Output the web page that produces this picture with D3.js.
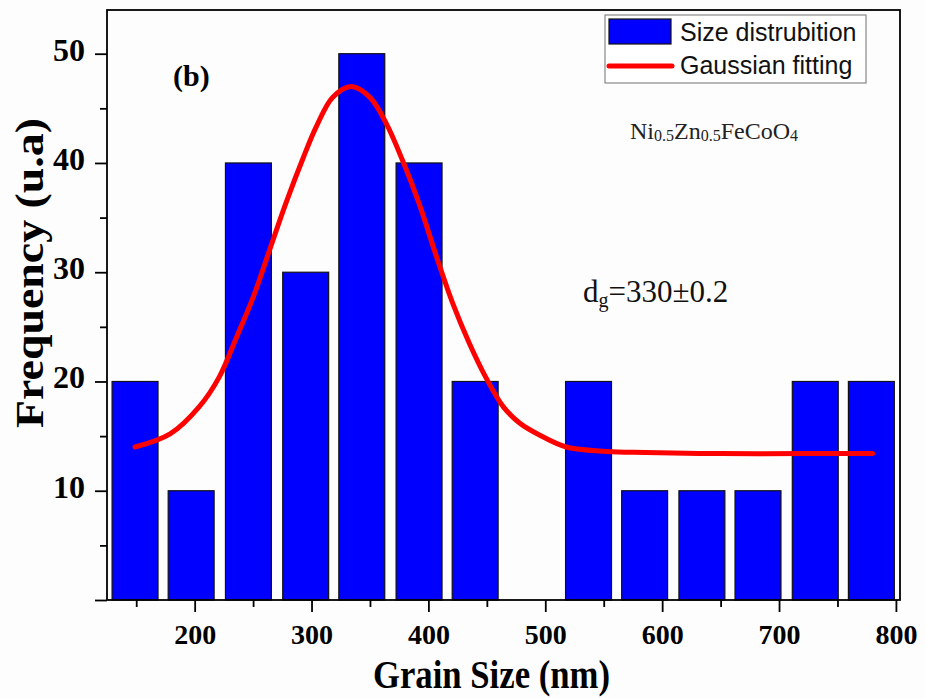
<!DOCTYPE html>
<html>
<head>
<meta charset="utf-8">
<script src="https://cdn.jsdelivr.net/npm/d3@7/dist/d3.min.js"></script>
<style>
  html, body { margin: 0; padding: 0; background: #fdfdfd; }
  svg { display: block; }
</style>
</head>
<body>
<svg id="chart" width="925" height="698"></svg>
<script>
// ---- data ----
const binCenters = [149, 197, 246, 295, 343, 392, 440, 488, 537, 585, 634, 682, 731, 779];
const frequencies = [20, 10, 40, 30, 50, 40, 20, 0, 20, 10, 10, 10, 20, 20];
const binWidth = 39.3;

const fitX = [149, 179, 204, 221, 236, 250, 264, 278, 293, 304, 318, 334, 350, 364, 378, 392, 407, 421, 435, 449, 464, 478, 495, 518, 552, 586, 650, 720, 780];
const fitY = [14.0, 15.2, 17.7, 20.4, 24.1, 27.7, 32.0, 36.3, 40.5, 43.3, 46.0, 47.0, 46.0, 43.6, 40.2, 36.3, 31.4, 27.1, 23.5, 20.4, 17.7, 16.2, 15.1, 14.0, 13.6, 13.5, 13.4, 13.4, 13.4];

const xTickValues = [200, 300, 400, 500, 600, 700, 800];
const xMinorTicks = [150, 250, 350, 450, 550, 650, 750];
const yTickValues = [10, 20, 30, 40, 50];
const yMinorTicks = [0, 5, 15, 25, 35, 45];

const xDomain = [125, 803.5];
const yDomain = [0, 54];

const legendLabels = ["Size distrubition", "Gaussian fitting"];
const xTitle = "Grain Size (nm)";
const yTitle = "Frequency (u.a)";

(function () {
// ---- layout ----
const svg = d3.select("#chart");
const mLeft = 107, mRight = 900, mTop = 10, mBottom = 600;
const serif = "'Liberation Serif', 'Times New Roman', serif";
const sans = "'Liberation Sans', Arial, sans-serif";

const x = d3.scaleLinear().domain(xDomain).range([mLeft, mRight]);
const y = d3.scaleLinear().domain(yDomain).range([mBottom, mTop]);

// bars
const bars = binCenters.map((c, i) => ({c, v: frequencies[i]})).filter(d => d.v > 0);
svg.append("g").selectAll("rect").data(bars).join("rect")
  .attr("x", d => x(d.c - binWidth / 2))
  .attr("width", d => x(d.c + binWidth / 2) - x(d.c - binWidth / 2))
  .attr("y", d => y(d.v))
  .attr("height", d => y(0) - y(d.v))
  .attr("fill", "#0000ff")
  .attr("stroke", "#111")
  .attr("stroke-width", 1.2);

// fitted curve
const fit = fitX.map((v, i) => [v, fitY[i]]);
svg.append("path")
  .datum(fit)
  .attr("d", d3.line().x(d => x(d[0])).y(d => y(d[1])).curve(d3.curveCatmullRom.alpha(0.5)))
  .attr("fill", "none")
  .attr("stroke", "#ff0000")
  .attr("stroke-width", 5)
  .attr("stroke-linecap", "round");

// frame
svg.append("rect")
  .attr("x", mLeft).attr("y", mTop)
  .attr("width", mRight - mLeft).attr("height", mBottom - mTop)
  .attr("fill", "none").attr("stroke", "#000").attr("stroke-width", 1.8);

// x axis
const xAxis = svg.append("g").attr("transform", `translate(0,${mBottom})`)
  .call(d3.axisBottom(x).tickValues(xTickValues).tickSize(12).tickPadding(12).tickFormat(d3.format("d")));
xAxis.select(".domain").remove();
xAxis.selectAll("line").attr("stroke", "#000").attr("stroke-width", 1.8);
xAxis.selectAll("text").attr("font-family", serif).attr("font-weight", "bold").attr("font-size", 28).attr("fill", "#000");
const xMinor = svg.append("g").attr("transform", `translate(0,${mBottom})`)
  .call(d3.axisBottom(x).tickValues(xMinorTicks).tickSize(7).tickFormat(""));
xMinor.select(".domain").remove();
xMinor.selectAll("line").attr("stroke", "#000").attr("stroke-width", 1.8);

// y axis
const yAxis = svg.append("g").attr("transform", `translate(${mLeft},0)`)
  .call(d3.axisLeft(y).tickValues(yTickValues).tickSize(12).tickPadding(10).tickFormat(d3.format("d")));
yAxis.select(".domain").remove();
yAxis.selectAll("line").attr("stroke", "#000").attr("stroke-width", 1.8);
yAxis.selectAll("text").attr("font-family", serif).attr("font-weight", "bold").attr("font-size", 32).attr("fill", "#000")
  .attr("dy", "0.2em");
const yMinor = svg.append("g").attr("transform", `translate(${mLeft},0)`)
  .call(d3.axisLeft(y).tickValues(yMinorTicks).tickSize(7).tickFormat(""));
yMinor.select(".domain").remove();
yMinor.selectAll("line").attr("stroke", "#000").attr("stroke-width", 1.8);
yMinor.selectAll(".tick").filter(d => d === 0).select("line").attr("x2", -12);

// axis titles
svg.append("text")
  .attr("x", 373).attr("y", 688)
  .attr("font-family", serif).attr("font-weight", "bold").attr("font-size", 40)
  .attr("textLength", 237).attr("lengthAdjust", "spacingAndGlyphs")
  .text(xTitle);
svg.append("text")
  .attr("transform", "translate(43,428) rotate(-90)")
  .attr("font-family", serif).attr("font-weight", "bold").attr("font-size", 41)
  .attr("textLength", 310).attr("lengthAdjust", "spacingAndGlyphs")
  .text(yTitle);

// panel label
svg.append("text")
  .attr("x", 173).attr("y", 86)
  .attr("font-family", serif).attr("font-weight", "bold").attr("font-size", 30)
  .text("(b)");

// legend
const lg = svg.append("g");
lg.append("rect").attr("x", 605).attr("y", 15).attr("width", 261).attr("height", 68)
  .attr("fill", "#fff").attr("stroke", "#888").attr("stroke-width", 1.2);
lg.append("rect").attr("x", 609).attr("y", 19).attr("width", 62).attr("height", 25)
  .attr("fill", "#0000ff").attr("stroke", "#111").attr("stroke-width", 1.2);
lg.append("line").attr("x1", 609).attr("x2", 672).attr("y1", 66).attr("y2", 66)
  .attr("stroke", "#ff0000").attr("stroke-width", 5).attr("stroke-linecap", "round");
lg.selectAll("text.lab").data(legendLabels).join("text").attr("class", "lab")
  .attr("x", 680).attr("y", (d, i) => 41 + i * 33)
  .attr("font-family", sans).attr("font-size", 25).attr("fill", "#111")
  .text(d => d);

// compound formula
const ni = svg.append("text").attr("x", 630).attr("y", 139)
  .attr("font-family", serif).attr("font-size", 24).attr("fill", "#222");
const parts = [["Ni", false], ["0.5", true], ["Zn", false], ["0.5", true], ["FeCoO", false], ["4", true]];
parts.forEach(([t, sub], i) => {
  ni.append("tspan").attr("font-size", sub ? 16 : 24)
    .attr("dy", i === 0 ? 0 : (sub ? 2 : -2)).text(t);
});

// d_g annotation
const dg = svg.append("text").attr("x", 583).attr("y", 302)
  .attr("font-family", serif).attr("font-size", 31).attr("fill", "#111");
dg.append("tspan").text("d");
dg.append("tspan").attr("font-size", 20).attr("dy", 5).text("g");
dg.append("tspan").attr("dy", -5).text("=330±0.2");
})();
</script>
</body>
</html>
